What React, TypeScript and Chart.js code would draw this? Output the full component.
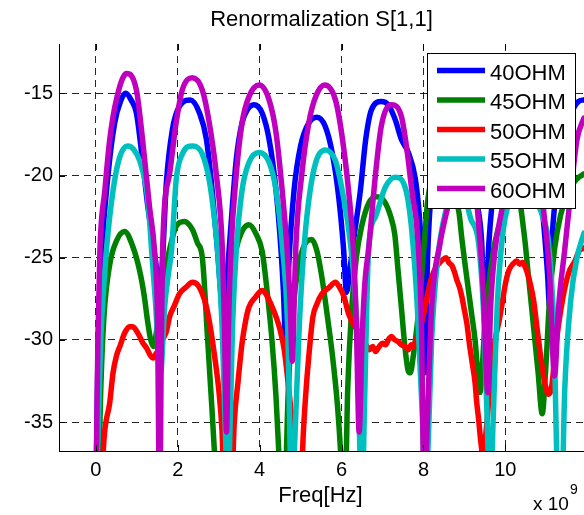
import React, { useEffect, useRef } from 'react';
import { Chart, registerables } from 'chart.js';

Chart.register(...registerables);

// ---- text / ticks ----
const TITLE = 'Renormalization S[1,1]';
const X_LABEL = 'Freq[Hz]';
const X_EXP_BASE = 'x 10';
const X_EXP_POW = '9';
const X_TICKS = [0, 2, 4, 6, 8, 10];
const Y_TICKS = [-35, -30, -25, -20, -15];
const X_MIN = -0.9;
const X_MAX = 11.92;
const Y_MIN = -36.76;
const Y_MAX = -12;

const SERIES_NAMES = ['40OHM', '45OHM', '50OHM', '55OHM', '60OHM'];
const SERIES_COLORS = ['#0000ff', '#008000', '#ff0000', '#00bfbf', '#bf00bf'];

// ---- data: [freq (x1e9 Hz), S11 (dB)] ----
const OHM40 = [
  [0.0, -40], [0.05, -31], [0.15, -24.5], [0.3, -19.9], [0.46, -16.8], [0.6, -15.5], [0.73, -15.0],
  [0.86, -15.4], [0.99, -16.2], [1.14, -19.1], [1.27, -21.9], [1.39, -24.0], [1.5, -26.0], [1.56, -27.2],
  [1.62, -25.5], [1.72, -20.5], [1.87, -17.2], [2.04, -15.8], [2.31, -15.4], [2.53, -16.2], [2.7, -17.8],
  [2.84, -20.9], [2.97, -24.5], [3.06, -27.5], [3.13, -30.0], [3.2, -26.5], [3.3, -23.0], [3.43, -19.0],
  [3.57, -16.8], [3.7, -16.0], [3.86, -15.7], [4.06, -16.2], [4.23, -17.8], [4.4, -20.9], [4.52, -24.5],
  [4.58, -27.0], [4.64, -30.3], [4.71, -25.5], [4.84, -20.9], [5.0, -18.2], [5.2, -16.8], [5.4, -16.45],
  [5.6, -17.0], [5.77, -18.6], [5.93, -21.3], [6.05, -24.5], [6.12, -27.1], [6.2, -25.8], [6.29, -24.0],
  [6.46, -20.9], [6.59, -17.8], [6.73, -16.0], [6.97, -15.5], [7.14, -15.7], [7.31, -16.6], [7.46, -17.8],
  [7.63, -18.6], [7.8, -20.2], [7.9, -22.5], [7.97, -25.5], [8.03, -32.0], [8.1, -25.0], [8.2, -20.5],
  [8.4, -17.0], [8.7, -15.5], [8.95, -16.2], [9.15, -18.5], [9.3, -21.5], [9.42, -24.0], [9.5, -29.0],
  [9.6, -24.0], [9.75, -20.0], [9.95, -17.0], [10.28, -15.5], [10.55, -16.3], [10.75, -19.0], [10.92, -22.5],
  [11.03, -26.0], [11.08, -28.0], [11.15, -23.5], [11.28, -20.4], [11.42, -18.0], [11.6, -16.3],
  [11.78, -15.5], [11.92, -15.4],
];

const OHM45 = [
  [0.05, -40], [0.12, -33], [0.2, -28.5], [0.34, -25.4], [0.5, -24.0], [0.7, -23.4], [0.9, -24.3],
  [1.07, -25.8], [1.18, -27.3], [1.26, -28.8], [1.34, -30.0], [1.41, -30.4], [1.48, -29.5], [1.58, -27.6],
  [1.7, -25.8], [1.8, -24.5], [1.96, -23.1], [2.16, -22.8], [2.36, -23.3], [2.48, -24.1], [2.6, -25.0],
  [2.73, -30.0], [2.83, -34.0], [2.9, -37.0], [2.96, -40], [3.08, -40], [3.15, -33], [3.25, -27.5],
  [3.4, -24.8], [3.55, -23.5], [3.74, -23.0], [3.92, -23.6], [4.06, -24.6], [4.18, -27.0], [4.3, -30.0],
  [4.4, -33.5], [4.47, -37.0], [4.53, -40], [4.6, -40], [4.7, -33], [4.82, -28], [4.95, -25.5],
  [5.1, -24.2], [5.27, -23.9], [5.4, -24.6], [5.52, -26.2], [5.65, -28.5], [5.77, -30.8], [5.9, -34.0],
  [5.98, -37.0], [6.03, -40], [6.08, -40], [6.15, -33], [6.25, -28], [6.36, -25.0], [6.49, -23.1],
  [6.66, -21.7], [6.86, -21.3], [7.05, -21.6], [7.2, -22.5], [7.3, -23.6], [7.38, -25.8], [7.46, -28.0],
  [7.55, -30.5], [7.63, -31.9], [7.68, -32.0], [7.75, -31.0], [7.85, -29.0], [7.92, -27.4], [7.98, -25.3],
  [8.04, -23.4], [8.1, -21.6], [8.25, -19.8], [8.5, -19.2], [8.7, -20.3], [8.87, -22.3], [8.94, -23.9],
  [9.02, -25.5], [9.1, -27.0], [9.18, -28.5], [9.26, -30.0], [9.32, -31.8], [9.38, -33.2], [9.44, -31.5],
  [9.5, -29.0], [9.6, -26.5], [9.75, -24.0], [9.95, -22.4], [10.15, -21.6], [10.32, -21.5], [10.47, -23.8],
  [10.55, -25.8], [10.64, -28.0], [10.72, -30.0], [10.8, -32.0], [10.9, -34.5], [10.98, -32.0],
  [11.08, -27.5], [11.2, -24.5], [11.35, -22.4], [11.55, -20.9], [11.75, -20.2], [11.92, -19.9],
];

const OHM50 = [
  [0.12, -40], [0.2, -36], [0.34, -33.8], [0.42, -32.0], [0.5, -31.0], [0.6, -30.3], [0.7, -29.6],
  [0.82, -29.2], [0.9, -29.2], [1.05, -29.7], [1.15, -30.2], [1.24, -30.5], [1.32, -30.9], [1.4, -31.1],
  [1.48, -30.8], [1.56, -30.6], [1.63, -30.0], [1.72, -29.5], [1.8, -28.6], [1.92, -27.9], [2.04, -27.2],
  [2.2, -26.8], [2.36, -26.5], [2.5, -26.7], [2.6, -27.2], [2.7, -28.0], [2.8, -29.3], [2.9, -31.0],
  [3.0, -33.0], [3.08, -35.5], [3.15, -40], [3.3, -40], [3.38, -35.0], [3.47, -32.6], [3.57, -30.2],
  [3.66, -28.8], [3.74, -28.0], [3.9, -27.4], [4.06, -27.0], [4.15, -27.2], [4.27, -27.8], [4.4, -28.6],
  [4.5, -29.4], [4.6, -30.6], [4.71, -33.0], [4.8, -35.5], [4.87, -40], [5.0, -40], [5.06, -36.0],
  [5.12, -33.5], [5.2, -31.0], [5.3, -28.6], [5.4, -27.8], [5.52, -27.2], [5.7, -26.8], [5.85, -26.5],
  [5.95, -26.8], [6.05, -27.3], [6.17, -28.4], [6.3, -29.1], [6.42, -29.5], [6.52, -30.0], [6.6, -30.3],
  [6.68, -30.6], [6.76, -30.4], [6.83, -30.7], [6.92, -30.4], [7.0, -30.2], [7.08, -30.3], [7.14, -30.0],
  [7.22, -29.8], [7.3, -30.0], [7.38, -30.1], [7.46, -30.3], [7.55, -30.4], [7.63, -30.6], [7.7, -30.3],
  [7.76, -30.4], [7.82, -30.0], [7.9, -29.4], [7.97, -28.8], [8.04, -28.0], [8.12, -27.0], [8.2, -26.2],
  [8.3, -25.6], [8.4, -25.3], [8.48, -25.1], [8.55, -25.0], [8.62, -25.3], [8.7, -25.5], [8.76, -25.9],
  [8.82, -26.4], [8.88, -26.8], [8.94, -27.4], [9.0, -28.2], [9.06, -29.0], [9.12, -30.2], [9.19, -31.4],
  [9.26, -32.6], [9.3, -33.8], [9.35, -34.9], [9.4, -36.2], [9.45, -37.0], [9.55, -35.0], [9.65, -32.0],
  [9.75, -30.0], [9.85, -28.8], [9.92, -27.8], [10.0, -26.6], [10.08, -25.8], [10.18, -25.4], [10.28, -25.2],
  [10.35, -25.4], [10.42, -25.3], [10.52, -25.8], [10.6, -26.5], [10.69, -27.6], [10.77, -29.2],
  [10.85, -30.8], [10.92, -32.0], [10.98, -32.8], [11.05, -33.3], [11.12, -33.0], [11.25, -30.0],
  [11.4, -27.5], [11.55, -25.9], [11.7, -25.2], [11.8, -24.6], [11.92, -24.4],
];

const OHM55 = [
  [0.0, -40], [0.05, -36], [0.12, -30], [0.2, -26.5], [0.27, -24.2], [0.42, -20.9], [0.58, -18.9],
  [0.78, -18.2], [0.92, -18.4], [1.07, -19.1], [1.24, -20.9], [1.31, -22.7], [1.36, -24.5], [1.45, -27.5],
  [1.58, -32.0], [1.68, -28.0], [1.77, -26.0], [1.85, -24.5], [1.96, -20.3], [2.11, -18.7], [2.36, -18.2],
  [2.6, -18.7], [2.77, -20.3], [2.89, -22.5], [2.97, -24.5], [3.08, -29.0], [3.18, -37.0], [3.22, -40],
  [3.26, -37.0], [3.34, -29.0], [3.43, -24.5], [3.57, -20.9], [3.74, -19.2], [3.99, -18.6], [4.23, -19.2],
  [4.4, -20.9], [4.55, -24.2], [4.68, -29.0], [4.79, -40], [4.86, -36.0], [4.97, -29.0], [5.08, -24.5],
  [5.2, -21.5], [5.37, -19.2], [5.6, -18.45], [5.85, -19.1], [6.0, -20.7], [6.22, -24.2], [6.37, -29.0],
  [6.5, -40], [6.56, -34.0], [6.66, -24.5], [6.83, -22.5], [7.07, -20.7], [7.31, -20.1], [7.55, -20.7],
  [7.7, -23.0], [7.85, -28.0], [7.98, -35.0], [8.05, -40], [8.12, -36.0], [8.2, -30.0], [8.35, -25.0],
  [8.55, -22.1], [8.8, -20.5], [9.0, -21.2], [9.15, -22.6], [9.35, -24.2], [9.48, -29.0], [9.58, -37.0],
  [9.62, -40], [9.7, -35.0], [9.8, -28.0], [9.92, -23.9], [10.1, -21.5], [10.45, -20.5], [10.75, -21.5],
  [10.95, -22.8], [11.05, -24.0], [11.18, -29.0], [11.3, -40], [11.37, -40], [11.45, -33.0],
  [11.6, -27.5], [11.75, -25.0], [11.92, -23.5],
];

const OHM60 = [
  [0.0, -40], [0.05, -30], [0.1, -24.5], [0.22, -20.9], [0.34, -17.8], [0.5, -15.4], [0.75, -13.8],
  [0.99, -14.8], [1.14, -17.8], [1.31, -21.9], [1.43, -24.5], [1.5, -28.0], [1.56, -40], [1.6, -30.0],
  [1.63, -24.5], [1.8, -19.9], [1.96, -16.8], [2.11, -14.8], [2.36, -14.05], [2.6, -14.8], [2.77, -16.8],
  [2.94, -19.9], [3.09, -24.5], [3.14, -29.0], [3.19, -35.6], [3.24, -29.0], [3.3, -24.5], [3.43, -19.9],
  [3.57, -16.8], [3.74, -15.2], [3.99, -14.5], [4.23, -15.4], [4.4, -17.4], [4.55, -20.9], [4.67, -24.5],
  [4.74, -27.5], [4.8, -31.3], [4.84, -28.0], [4.88, -24.5], [5.03, -19.9], [5.2, -16.8], [5.37, -15.2],
  [5.59, -14.5], [5.85, -15.4], [6.0, -17.4], [6.17, -20.9], [6.29, -24.5], [6.36, -29.0], [6.43, -35.6],
  [6.5, -30.0], [6.57, -26.5], [6.66, -24.5], [6.83, -19.9], [6.97, -17.0], [7.22, -15.7], [7.46, -16.4],
  [7.6, -18.5], [7.72, -21.0], [7.85, -23.5], [7.95, -29.0], [8.02, -40], [8.08, -36.0], [8.2, -28.0],
  [8.4, -24.2], [8.63, -21.5], [8.95, -17.5], [9.2, -19.5], [9.35, -23.0], [9.46, -27.0], [9.57, -33.2],
  [9.64, -28.0], [9.75, -24.5], [9.92, -22.0], [10.2, -17.5], [10.5, -16.5], [10.75, -18.5], [10.95, -22.5],
  [11.08, -26.0], [11.2, -32.2], [11.3, -28.0], [11.45, -24.5], [11.62, -20.5], [11.75, -17.8],
  [11.92, -16.5],
];

const SERIES_DATA = [OHM40, OHM45, OHM50, OHM55, OHM60];

const FONT = '"Liberation Sans", Arial, Helvetica, sans-serif';

const overlayPlugin = {
  id: 'overlay',
  afterDraw(chart: any) {
    const { ctx, chartArea: a, scales } = chart;
    const xs = scales.x;
    const ys = scales.y;
    ctx.save();
    const line = (x1: number, y1: number, x2: number, y2: number) => {
      ctx.beginPath();
      ctx.moveTo(x1, y1);
      ctx.lineTo(x2, y2);
      ctx.stroke();
    };
    // inward tick marks
    ctx.strokeStyle = '#000';
    ctx.lineWidth = 1;
    ctx.setLineDash([]);
    X_TICKS.forEach((v) => {
      const px = Math.round(xs.getPixelForValue(v)) + 0.5;
      line(px, a.bottom, px, a.bottom - 6);
      line(px, a.top, px, a.top + 6);
    });
    Y_TICKS.forEach((v) => {
      const py = Math.round(ys.getPixelForValue(v)) + 0.5;
      line(a.left, py, a.left + 6, py);
    });

    // title & axis label
    ctx.fillStyle = '#000';
    ctx.textBaseline = 'alphabetic';
    ctx.textAlign = 'center';
    ctx.font = `22px ${FONT}`;
    const cx = (a.left + a.right) / 2;
    ctx.fillText(TITLE, cx, 26);
    ctx.fillText(X_LABEL, cx - 1, 502);
    // exponent
    ctx.textAlign = 'left';
    ctx.font = `19px ${FONT}`;
    ctx.fillText(X_EXP_BASE, 533, 510);
    const w = ctx.measureText(X_EXP_BASE).width;
    ctx.font = `14px ${FONT}`;
    ctx.fillText(X_EXP_POW, 533 + w + 1, 494);

    // legend
    const lx = 427.5, ly = 53.5, lw = 148, lh = 155;
    ctx.fillStyle = '#fff';
    ctx.fillRect(lx, ly, lw, lh);
    ctx.strokeStyle = '#000';
    ctx.lineWidth = 1;
    ctx.strokeRect(lx, ly, lw, lh);
    ctx.font = `22px ${FONT}`;
    ctx.textAlign = 'left';
    SERIES_NAMES.forEach((name, i) => {
      const yy = 70.5 + i * 29.5;
      ctx.strokeStyle = SERIES_COLORS[i];
      ctx.lineWidth = 5.5;
      line(437, yy, 485, yy);
      ctx.fillStyle = '#000';
      ctx.fillText(name, 490, yy + 9);
    });
    ctx.restore();
  },
};

export default function App() {
  const ref = useRef<HTMLCanvasElement | null>(null);

  useEffect(() => {
    const canvas = ref.current;
    if (!canvas) return;
    const tickFont = { family: FONT, size: 20 };
    const chart = new Chart(canvas, {
      type: 'line',
      data: {
        datasets: SERIES_DATA.map((d, i) => ({
          label: SERIES_NAMES[i],
          data: d.map(([x, y]) => ({ x, y })),
          borderColor: SERIES_COLORS[i],
          backgroundColor: SERIES_COLORS[i],
          borderWidth: 5.5,
          pointRadius: 0,
          fill: false,
          cubicInterpolationMode: 'monotone',
          borderJoinStyle: 'round',
          borderCapStyle: 'round',
          clip: 0,
          order: SERIES_DATA.length - 1 - i,
        })),
      },
      options: {
        responsive: false,
        animation: false,
        devicePixelRatio: 1,
        layout: { padding: { top: 44, left: 0, right: 0, bottom: 0 } },
        plugins: {
          legend: { display: false },
          title: { display: false },
          tooltip: { enabled: false },
        },
        scales: {
          x: {
            type: 'linear',
            min: X_MIN,
            max: X_MAX,
            afterBuildTicks: (s: any) => {
              s.ticks = X_TICKS.map((v) => ({ value: v }));
            },
            afterFit: (s: any) => {
              s.height = 64;
            },
            grid: { color: 'rgba(0,0,0,0.85)', lineWidth: 1, drawTicks: false },
            border: { display: true, color: '#000', width: 1, dash: [7, 5] },
            ticks: {
              padding: 7,
              color: '#000',
              font: tickFont,
              maxRotation: 0,
              autoSkip: false,
              callback: (v: any) => String(v),
            },
          },
          y: {
            type: 'linear',
            min: Y_MIN,
            max: Y_MAX,
            afterBuildTicks: (s: any) => {
              s.ticks = Y_TICKS.map((v) => ({ value: v }));
            },
            afterFit: (s: any) => {
              s.width = 59;
            },
            grid: { color: 'rgba(0,0,0,0.85)', lineWidth: 1, drawTicks: false },
            border: { display: true, color: '#000', width: 1, dash: [7, 5] },
            ticks: {
              padding: 6,
              color: '#000',
              font: tickFont,
              autoSkip: false,
              callback: (v: any) => String(v),
            },
          },
        },
      },
      plugins: [overlayPlugin],
    } as any);
    return () => chart.destroy();
  }, []);

  return (
    <div style={{ position: 'absolute', left: 0, top: 0, width: 584, height: 515, background: '#fff' }}>
      <canvas ref={ref} width={584} height={515} style={{ width: 584, height: 515, display: 'block' }} />
    </div>
  );
}
